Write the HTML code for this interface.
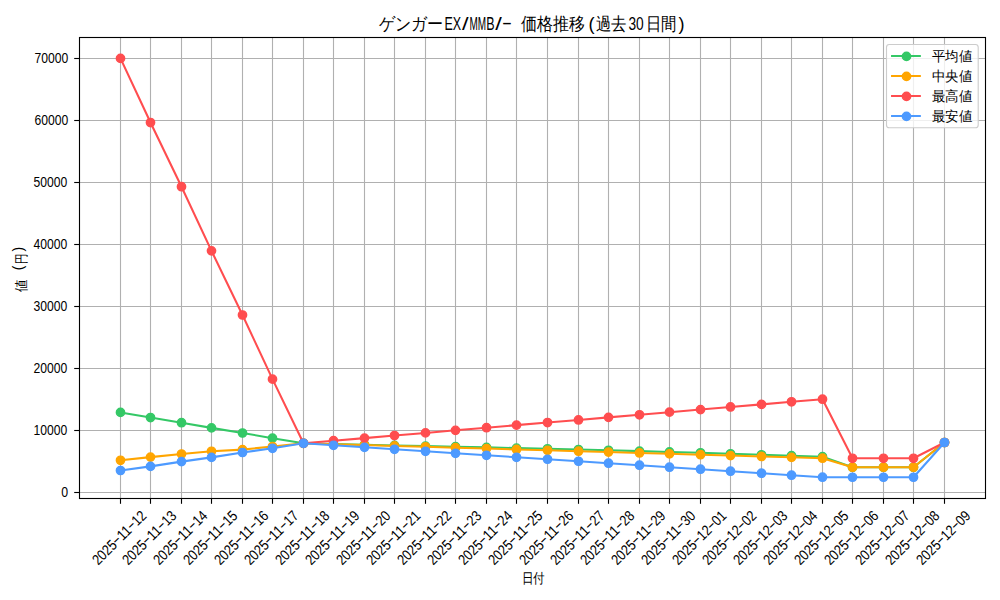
<!DOCTYPE html>
<html lang="ja"><head><meta charset="utf-8"><title>ゲンガーEX/MMB/- 価格推移</title>
<style>html,body{margin:0;padding:0;background:#fff;}body{width:1000px;height:600px;overflow:hidden;font-family:"Liberation Sans",sans-serif;}svg{display:block;}</style>
</head><body>
<svg width="1000" height="600" viewBox="0 0 1000 600">
<rect width="1000" height="600" fill="#fff"/>
<g stroke="#b0b0b0" stroke-width="1.11"><line x1="120.5" y1="37.5" x2="120.5" y2="498.5"/><line x1="150.5" y1="37.5" x2="150.5" y2="498.5"/><line x1="181.5" y1="37.5" x2="181.5" y2="498.5"/><line x1="211.5" y1="37.5" x2="211.5" y2="498.5"/><line x1="242.5" y1="37.5" x2="242.5" y2="498.5"/><line x1="272.5" y1="37.5" x2="272.5" y2="498.5"/><line x1="303.5" y1="37.5" x2="303.5" y2="498.5"/><line x1="333.5" y1="37.5" x2="333.5" y2="498.5"/><line x1="364.5" y1="37.5" x2="364.5" y2="498.5"/><line x1="394.5" y1="37.5" x2="394.5" y2="498.5"/><line x1="425.5" y1="37.5" x2="425.5" y2="498.5"/><line x1="455.5" y1="37.5" x2="455.5" y2="498.5"/><line x1="486.5" y1="37.5" x2="486.5" y2="498.5"/><line x1="516.5" y1="37.5" x2="516.5" y2="498.5"/><line x1="547.5" y1="37.5" x2="547.5" y2="498.5"/><line x1="578.5" y1="37.5" x2="578.5" y2="498.5"/><line x1="608.5" y1="37.5" x2="608.5" y2="498.5"/><line x1="639.5" y1="37.5" x2="639.5" y2="498.5"/><line x1="669.5" y1="37.5" x2="669.5" y2="498.5"/><line x1="700.5" y1="37.5" x2="700.5" y2="498.5"/><line x1="730.5" y1="37.5" x2="730.5" y2="498.5"/><line x1="761.5" y1="37.5" x2="761.5" y2="498.5"/><line x1="791.5" y1="37.5" x2="791.5" y2="498.5"/><line x1="822.5" y1="37.5" x2="822.5" y2="498.5"/><line x1="852.5" y1="37.5" x2="852.5" y2="498.5"/><line x1="883.5" y1="37.5" x2="883.5" y2="498.5"/><line x1="913.5" y1="37.5" x2="913.5" y2="498.5"/><line x1="944.5" y1="37.5" x2="944.5" y2="498.5"/><line x1="79.5" y1="492.5" x2="985.5" y2="492.5"/><line x1="79.5" y1="430.5" x2="985.5" y2="430.5"/><line x1="79.5" y1="368.5" x2="985.5" y2="368.5"/><line x1="79.5" y1="306.5" x2="985.5" y2="306.5"/><line x1="79.5" y1="244.5" x2="985.5" y2="244.5"/><line x1="79.5" y1="182.5" x2="985.5" y2="182.5"/><line x1="79.5" y1="120.5" x2="985.5" y2="120.5"/><line x1="79.5" y1="58.5" x2="985.5" y2="58.5"/></g>
<polyline points="120.50,412.40 150.50,417.55 181.50,422.70 211.50,427.85 242.50,433.00 272.50,438.15 303.50,443.30 333.50,444.01 364.50,444.72 394.50,445.43 425.50,446.07 455.50,446.72 486.50,447.36 516.50,448.09 547.50,448.81 578.50,449.54 608.50,450.26 639.50,451.11 669.50,451.95 700.50,452.79 730.50,453.77 761.50,454.75 791.50,455.72 822.50,456.70 852.50,467.25 883.50,467.25 913.50,467.25 944.50,442.50" fill="none" stroke="#34c866" stroke-width="2.08" stroke-linejoin="round" stroke-linecap="butt"/>
<circle cx="120.50" cy="412.40" r="4.17" fill="#34c866" stroke="#34c866" stroke-width="1.39"/><circle cx="150.50" cy="417.55" r="4.17" fill="#34c866" stroke="#34c866" stroke-width="1.39"/><circle cx="181.50" cy="422.70" r="4.17" fill="#34c866" stroke="#34c866" stroke-width="1.39"/><circle cx="211.50" cy="427.85" r="4.17" fill="#34c866" stroke="#34c866" stroke-width="1.39"/><circle cx="242.50" cy="433.00" r="4.17" fill="#34c866" stroke="#34c866" stroke-width="1.39"/><circle cx="272.50" cy="438.15" r="4.17" fill="#34c866" stroke="#34c866" stroke-width="1.39"/><circle cx="303.50" cy="443.30" r="4.17" fill="#34c866" stroke="#34c866" stroke-width="1.39"/><circle cx="333.50" cy="444.01" r="4.17" fill="#34c866" stroke="#34c866" stroke-width="1.39"/><circle cx="364.50" cy="444.72" r="4.17" fill="#34c866" stroke="#34c866" stroke-width="1.39"/><circle cx="394.50" cy="445.43" r="4.17" fill="#34c866" stroke="#34c866" stroke-width="1.39"/><circle cx="425.50" cy="446.07" r="4.17" fill="#34c866" stroke="#34c866" stroke-width="1.39"/><circle cx="455.50" cy="446.72" r="4.17" fill="#34c866" stroke="#34c866" stroke-width="1.39"/><circle cx="486.50" cy="447.36" r="4.17" fill="#34c866" stroke="#34c866" stroke-width="1.39"/><circle cx="516.50" cy="448.09" r="4.17" fill="#34c866" stroke="#34c866" stroke-width="1.39"/><circle cx="547.50" cy="448.81" r="4.17" fill="#34c866" stroke="#34c866" stroke-width="1.39"/><circle cx="578.50" cy="449.54" r="4.17" fill="#34c866" stroke="#34c866" stroke-width="1.39"/><circle cx="608.50" cy="450.26" r="4.17" fill="#34c866" stroke="#34c866" stroke-width="1.39"/><circle cx="639.50" cy="451.11" r="4.17" fill="#34c866" stroke="#34c866" stroke-width="1.39"/><circle cx="669.50" cy="451.95" r="4.17" fill="#34c866" stroke="#34c866" stroke-width="1.39"/><circle cx="700.50" cy="452.79" r="4.17" fill="#34c866" stroke="#34c866" stroke-width="1.39"/><circle cx="730.50" cy="453.77" r="4.17" fill="#34c866" stroke="#34c866" stroke-width="1.39"/><circle cx="761.50" cy="454.75" r="4.17" fill="#34c866" stroke="#34c866" stroke-width="1.39"/><circle cx="791.50" cy="455.72" r="4.17" fill="#34c866" stroke="#34c866" stroke-width="1.39"/><circle cx="822.50" cy="456.70" r="4.17" fill="#34c866" stroke="#34c866" stroke-width="1.39"/><circle cx="852.50" cy="467.25" r="4.17" fill="#34c866" stroke="#34c866" stroke-width="1.39"/><circle cx="883.50" cy="467.25" r="4.17" fill="#34c866" stroke="#34c866" stroke-width="1.39"/><circle cx="913.50" cy="467.25" r="4.17" fill="#34c866" stroke="#34c866" stroke-width="1.39"/><circle cx="944.50" cy="442.50" r="4.17" fill="#34c866" stroke="#34c866" stroke-width="1.39"/>

<polyline points="120.50,460.30 150.50,457.10 181.50,454.00 211.50,451.30 242.50,449.60 272.50,446.50 303.50,443.30 333.50,444.18 364.50,445.05 394.50,445.93 425.50,446.81 455.50,447.68 486.50,448.56 516.50,449.44 547.50,450.31 578.50,451.19 608.50,452.06 639.50,452.94 669.50,453.82 700.50,454.69 730.50,455.57 761.50,456.45 791.50,457.32 822.50,458.20 852.50,467.25 883.50,467.25 913.50,467.25 944.50,442.50" fill="none" stroke="#ffa500" stroke-width="2.08" stroke-linejoin="round" stroke-linecap="butt"/>
<circle cx="120.50" cy="460.30" r="4.17" fill="#ffa500" stroke="#ffa500" stroke-width="1.39"/><circle cx="150.50" cy="457.10" r="4.17" fill="#ffa500" stroke="#ffa500" stroke-width="1.39"/><circle cx="181.50" cy="454.00" r="4.17" fill="#ffa500" stroke="#ffa500" stroke-width="1.39"/><circle cx="211.50" cy="451.30" r="4.17" fill="#ffa500" stroke="#ffa500" stroke-width="1.39"/><circle cx="242.50" cy="449.60" r="4.17" fill="#ffa500" stroke="#ffa500" stroke-width="1.39"/><circle cx="272.50" cy="446.50" r="4.17" fill="#ffa500" stroke="#ffa500" stroke-width="1.39"/><circle cx="303.50" cy="443.30" r="4.17" fill="#ffa500" stroke="#ffa500" stroke-width="1.39"/><circle cx="333.50" cy="444.18" r="4.17" fill="#ffa500" stroke="#ffa500" stroke-width="1.39"/><circle cx="364.50" cy="445.05" r="4.17" fill="#ffa500" stroke="#ffa500" stroke-width="1.39"/><circle cx="394.50" cy="445.93" r="4.17" fill="#ffa500" stroke="#ffa500" stroke-width="1.39"/><circle cx="425.50" cy="446.81" r="4.17" fill="#ffa500" stroke="#ffa500" stroke-width="1.39"/><circle cx="455.50" cy="447.68" r="4.17" fill="#ffa500" stroke="#ffa500" stroke-width="1.39"/><circle cx="486.50" cy="448.56" r="4.17" fill="#ffa500" stroke="#ffa500" stroke-width="1.39"/><circle cx="516.50" cy="449.44" r="4.17" fill="#ffa500" stroke="#ffa500" stroke-width="1.39"/><circle cx="547.50" cy="450.31" r="4.17" fill="#ffa500" stroke="#ffa500" stroke-width="1.39"/><circle cx="578.50" cy="451.19" r="4.17" fill="#ffa500" stroke="#ffa500" stroke-width="1.39"/><circle cx="608.50" cy="452.06" r="4.17" fill="#ffa500" stroke="#ffa500" stroke-width="1.39"/><circle cx="639.50" cy="452.94" r="4.17" fill="#ffa500" stroke="#ffa500" stroke-width="1.39"/><circle cx="669.50" cy="453.82" r="4.17" fill="#ffa500" stroke="#ffa500" stroke-width="1.39"/><circle cx="700.50" cy="454.69" r="4.17" fill="#ffa500" stroke="#ffa500" stroke-width="1.39"/><circle cx="730.50" cy="455.57" r="4.17" fill="#ffa500" stroke="#ffa500" stroke-width="1.39"/><circle cx="761.50" cy="456.45" r="4.17" fill="#ffa500" stroke="#ffa500" stroke-width="1.39"/><circle cx="791.50" cy="457.32" r="4.17" fill="#ffa500" stroke="#ffa500" stroke-width="1.39"/><circle cx="822.50" cy="458.20" r="4.17" fill="#ffa500" stroke="#ffa500" stroke-width="1.39"/><circle cx="852.50" cy="467.25" r="4.17" fill="#ffa500" stroke="#ffa500" stroke-width="1.39"/><circle cx="883.50" cy="467.25" r="4.17" fill="#ffa500" stroke="#ffa500" stroke-width="1.39"/><circle cx="913.50" cy="467.25" r="4.17" fill="#ffa500" stroke="#ffa500" stroke-width="1.39"/><circle cx="944.50" cy="442.50" r="4.17" fill="#ffa500" stroke="#ffa500" stroke-width="1.39"/>

<polyline points="120.50,58.40 150.50,122.55 181.50,186.70 211.50,250.85 242.50,315.00 272.50,379.15 303.50,443.30 333.50,440.71 364.50,438.11 394.50,435.52 425.50,432.92 455.50,430.33 486.50,427.74 516.50,425.14 547.50,422.55 578.50,419.95 608.50,417.36 639.50,414.76 669.50,412.17 700.50,409.58 730.50,406.98 761.50,404.39 791.50,401.79 822.50,399.20 852.50,458.30 883.50,458.30 913.50,458.30 944.50,442.50" fill="none" stroke="#ff4d4f" stroke-width="2.08" stroke-linejoin="round" stroke-linecap="butt"/>
<circle cx="120.50" cy="58.40" r="4.17" fill="#ff4d4f" stroke="#ff4d4f" stroke-width="1.39"/><circle cx="150.50" cy="122.55" r="4.17" fill="#ff4d4f" stroke="#ff4d4f" stroke-width="1.39"/><circle cx="181.50" cy="186.70" r="4.17" fill="#ff4d4f" stroke="#ff4d4f" stroke-width="1.39"/><circle cx="211.50" cy="250.85" r="4.17" fill="#ff4d4f" stroke="#ff4d4f" stroke-width="1.39"/><circle cx="242.50" cy="315.00" r="4.17" fill="#ff4d4f" stroke="#ff4d4f" stroke-width="1.39"/><circle cx="272.50" cy="379.15" r="4.17" fill="#ff4d4f" stroke="#ff4d4f" stroke-width="1.39"/><circle cx="303.50" cy="443.30" r="4.17" fill="#ff4d4f" stroke="#ff4d4f" stroke-width="1.39"/><circle cx="333.50" cy="440.71" r="4.17" fill="#ff4d4f" stroke="#ff4d4f" stroke-width="1.39"/><circle cx="364.50" cy="438.11" r="4.17" fill="#ff4d4f" stroke="#ff4d4f" stroke-width="1.39"/><circle cx="394.50" cy="435.52" r="4.17" fill="#ff4d4f" stroke="#ff4d4f" stroke-width="1.39"/><circle cx="425.50" cy="432.92" r="4.17" fill="#ff4d4f" stroke="#ff4d4f" stroke-width="1.39"/><circle cx="455.50" cy="430.33" r="4.17" fill="#ff4d4f" stroke="#ff4d4f" stroke-width="1.39"/><circle cx="486.50" cy="427.74" r="4.17" fill="#ff4d4f" stroke="#ff4d4f" stroke-width="1.39"/><circle cx="516.50" cy="425.14" r="4.17" fill="#ff4d4f" stroke="#ff4d4f" stroke-width="1.39"/><circle cx="547.50" cy="422.55" r="4.17" fill="#ff4d4f" stroke="#ff4d4f" stroke-width="1.39"/><circle cx="578.50" cy="419.95" r="4.17" fill="#ff4d4f" stroke="#ff4d4f" stroke-width="1.39"/><circle cx="608.50" cy="417.36" r="4.17" fill="#ff4d4f" stroke="#ff4d4f" stroke-width="1.39"/><circle cx="639.50" cy="414.76" r="4.17" fill="#ff4d4f" stroke="#ff4d4f" stroke-width="1.39"/><circle cx="669.50" cy="412.17" r="4.17" fill="#ff4d4f" stroke="#ff4d4f" stroke-width="1.39"/><circle cx="700.50" cy="409.58" r="4.17" fill="#ff4d4f" stroke="#ff4d4f" stroke-width="1.39"/><circle cx="730.50" cy="406.98" r="4.17" fill="#ff4d4f" stroke="#ff4d4f" stroke-width="1.39"/><circle cx="761.50" cy="404.39" r="4.17" fill="#ff4d4f" stroke="#ff4d4f" stroke-width="1.39"/><circle cx="791.50" cy="401.79" r="4.17" fill="#ff4d4f" stroke="#ff4d4f" stroke-width="1.39"/><circle cx="822.50" cy="399.20" r="4.17" fill="#ff4d4f" stroke="#ff4d4f" stroke-width="1.39"/><circle cx="852.50" cy="458.30" r="4.17" fill="#ff4d4f" stroke="#ff4d4f" stroke-width="1.39"/><circle cx="883.50" cy="458.30" r="4.17" fill="#ff4d4f" stroke="#ff4d4f" stroke-width="1.39"/><circle cx="913.50" cy="458.30" r="4.17" fill="#ff4d4f" stroke="#ff4d4f" stroke-width="1.39"/><circle cx="944.50" cy="442.50" r="4.17" fill="#ff4d4f" stroke="#ff4d4f" stroke-width="1.39"/>

<polyline points="120.50,470.50 150.50,466.40 181.50,461.60 211.50,457.40 242.50,452.50 272.50,448.30 303.50,443.30 333.50,445.29 364.50,447.29 394.50,449.28 425.50,451.28 455.50,453.27 486.50,455.26 516.50,457.26 547.50,459.25 578.50,461.25 608.50,463.24 639.50,465.24 669.50,467.23 700.50,469.22 730.50,471.22 761.50,473.21 791.50,475.21 822.50,477.20 852.50,477.25 883.50,477.25 913.50,477.25 944.50,442.50" fill="none" stroke="#4d9aff" stroke-width="2.08" stroke-linejoin="round" stroke-linecap="butt"/>
<circle cx="120.50" cy="470.50" r="4.17" fill="#4d9aff" stroke="#4d9aff" stroke-width="1.39"/><circle cx="150.50" cy="466.40" r="4.17" fill="#4d9aff" stroke="#4d9aff" stroke-width="1.39"/><circle cx="181.50" cy="461.60" r="4.17" fill="#4d9aff" stroke="#4d9aff" stroke-width="1.39"/><circle cx="211.50" cy="457.40" r="4.17" fill="#4d9aff" stroke="#4d9aff" stroke-width="1.39"/><circle cx="242.50" cy="452.50" r="4.17" fill="#4d9aff" stroke="#4d9aff" stroke-width="1.39"/><circle cx="272.50" cy="448.30" r="4.17" fill="#4d9aff" stroke="#4d9aff" stroke-width="1.39"/><circle cx="303.50" cy="443.30" r="4.17" fill="#4d9aff" stroke="#4d9aff" stroke-width="1.39"/><circle cx="333.50" cy="445.29" r="4.17" fill="#4d9aff" stroke="#4d9aff" stroke-width="1.39"/><circle cx="364.50" cy="447.29" r="4.17" fill="#4d9aff" stroke="#4d9aff" stroke-width="1.39"/><circle cx="394.50" cy="449.28" r="4.17" fill="#4d9aff" stroke="#4d9aff" stroke-width="1.39"/><circle cx="425.50" cy="451.28" r="4.17" fill="#4d9aff" stroke="#4d9aff" stroke-width="1.39"/><circle cx="455.50" cy="453.27" r="4.17" fill="#4d9aff" stroke="#4d9aff" stroke-width="1.39"/><circle cx="486.50" cy="455.26" r="4.17" fill="#4d9aff" stroke="#4d9aff" stroke-width="1.39"/><circle cx="516.50" cy="457.26" r="4.17" fill="#4d9aff" stroke="#4d9aff" stroke-width="1.39"/><circle cx="547.50" cy="459.25" r="4.17" fill="#4d9aff" stroke="#4d9aff" stroke-width="1.39"/><circle cx="578.50" cy="461.25" r="4.17" fill="#4d9aff" stroke="#4d9aff" stroke-width="1.39"/><circle cx="608.50" cy="463.24" r="4.17" fill="#4d9aff" stroke="#4d9aff" stroke-width="1.39"/><circle cx="639.50" cy="465.24" r="4.17" fill="#4d9aff" stroke="#4d9aff" stroke-width="1.39"/><circle cx="669.50" cy="467.23" r="4.17" fill="#4d9aff" stroke="#4d9aff" stroke-width="1.39"/><circle cx="700.50" cy="469.22" r="4.17" fill="#4d9aff" stroke="#4d9aff" stroke-width="1.39"/><circle cx="730.50" cy="471.22" r="4.17" fill="#4d9aff" stroke="#4d9aff" stroke-width="1.39"/><circle cx="761.50" cy="473.21" r="4.17" fill="#4d9aff" stroke="#4d9aff" stroke-width="1.39"/><circle cx="791.50" cy="475.21" r="4.17" fill="#4d9aff" stroke="#4d9aff" stroke-width="1.39"/><circle cx="822.50" cy="477.20" r="4.17" fill="#4d9aff" stroke="#4d9aff" stroke-width="1.39"/><circle cx="852.50" cy="477.25" r="4.17" fill="#4d9aff" stroke="#4d9aff" stroke-width="1.39"/><circle cx="883.50" cy="477.25" r="4.17" fill="#4d9aff" stroke="#4d9aff" stroke-width="1.39"/><circle cx="913.50" cy="477.25" r="4.17" fill="#4d9aff" stroke="#4d9aff" stroke-width="1.39"/><circle cx="944.50" cy="442.50" r="4.17" fill="#4d9aff" stroke="#4d9aff" stroke-width="1.39"/>

<g stroke="#000" stroke-width="1.11" stroke-linecap="butt"><rect x="79.5" y="37.5" width="906.0" height="461.0" fill="none"/><line x1="120.5" y1="498.5" x2="120.5" y2="503.8"/><line x1="150.5" y1="498.5" x2="150.5" y2="503.8"/><line x1="181.5" y1="498.5" x2="181.5" y2="503.8"/><line x1="211.5" y1="498.5" x2="211.5" y2="503.8"/><line x1="242.5" y1="498.5" x2="242.5" y2="503.8"/><line x1="272.5" y1="498.5" x2="272.5" y2="503.8"/><line x1="303.5" y1="498.5" x2="303.5" y2="503.8"/><line x1="333.5" y1="498.5" x2="333.5" y2="503.8"/><line x1="364.5" y1="498.5" x2="364.5" y2="503.8"/><line x1="394.5" y1="498.5" x2="394.5" y2="503.8"/><line x1="425.5" y1="498.5" x2="425.5" y2="503.8"/><line x1="455.5" y1="498.5" x2="455.5" y2="503.8"/><line x1="486.5" y1="498.5" x2="486.5" y2="503.8"/><line x1="516.5" y1="498.5" x2="516.5" y2="503.8"/><line x1="547.5" y1="498.5" x2="547.5" y2="503.8"/><line x1="578.5" y1="498.5" x2="578.5" y2="503.8"/><line x1="608.5" y1="498.5" x2="608.5" y2="503.8"/><line x1="639.5" y1="498.5" x2="639.5" y2="503.8"/><line x1="669.5" y1="498.5" x2="669.5" y2="503.8"/><line x1="700.5" y1="498.5" x2="700.5" y2="503.8"/><line x1="730.5" y1="498.5" x2="730.5" y2="503.8"/><line x1="761.5" y1="498.5" x2="761.5" y2="503.8"/><line x1="791.5" y1="498.5" x2="791.5" y2="503.8"/><line x1="822.5" y1="498.5" x2="822.5" y2="503.8"/><line x1="852.5" y1="498.5" x2="852.5" y2="503.8"/><line x1="883.5" y1="498.5" x2="883.5" y2="503.8"/><line x1="913.5" y1="498.5" x2="913.5" y2="503.8"/><line x1="944.5" y1="498.5" x2="944.5" y2="503.8"/><line x1="74.2" y1="492.5" x2="79.5" y2="492.5"/><line x1="74.2" y1="430.5" x2="79.5" y2="430.5"/><line x1="74.2" y1="368.5" x2="79.5" y2="368.5"/><line x1="74.2" y1="306.5" x2="79.5" y2="306.5"/><line x1="74.2" y1="244.5" x2="79.5" y2="244.5"/><line x1="74.2" y1="182.5" x2="79.5" y2="182.5"/><line x1="74.2" y1="120.5" x2="79.5" y2="120.5"/><line x1="74.2" y1="58.5" x2="79.5" y2="58.5"/></g>
<g font-family="'Liberation Sans', sans-serif" font-size="14.8" fill="#000"><text x="68.2" y="497.00" text-anchor="end" textLength="6.85" lengthAdjust="spacingAndGlyphs">0</text><text x="67.3" y="435.00" text-anchor="end" textLength="33.80" lengthAdjust="spacingAndGlyphs">10000</text><text x="67.3" y="373.00" text-anchor="end" textLength="33.80" lengthAdjust="spacingAndGlyphs">20000</text><text x="67.3" y="311.00" text-anchor="end" textLength="33.80" lengthAdjust="spacingAndGlyphs">30000</text><text x="67.3" y="249.00" text-anchor="end" textLength="33.80" lengthAdjust="spacingAndGlyphs">40000</text><text x="67.3" y="187.00" text-anchor="end" textLength="33.80" lengthAdjust="spacingAndGlyphs">50000</text><text x="68.2" y="125.00" text-anchor="end" textLength="33.80" lengthAdjust="spacingAndGlyphs">60000</text><text x="68.2" y="63.00" text-anchor="end" textLength="33.80" lengthAdjust="spacingAndGlyphs">70000</text></g>
<g font-family="'Liberation Sans', sans-serif" font-size="14.8" fill="#000"><g transform="translate(119.10,537.60) rotate(-45)"><text x="-34.75" y="5.2" textLength="27.80" lengthAdjust="spacingAndGlyphs">2025</text><text x="-7.47" y="3.9" textLength="8.0" lengthAdjust="spacingAndGlyphs">-</text><text x="0.00" y="5.2" textLength="13.90" lengthAdjust="spacingAndGlyphs">11</text><text x="13.38" y="3.9" textLength="8.0" lengthAdjust="spacingAndGlyphs">-</text><text x="20.85" y="5.2" textLength="13.90" lengthAdjust="spacingAndGlyphs">12</text></g><g transform="translate(149.10,537.60) rotate(-45)"><text x="-34.75" y="5.2" textLength="27.80" lengthAdjust="spacingAndGlyphs">2025</text><text x="-7.47" y="3.9" textLength="8.0" lengthAdjust="spacingAndGlyphs">-</text><text x="0.00" y="5.2" textLength="13.90" lengthAdjust="spacingAndGlyphs">11</text><text x="13.38" y="3.9" textLength="8.0" lengthAdjust="spacingAndGlyphs">-</text><text x="20.85" y="5.2" textLength="13.90" lengthAdjust="spacingAndGlyphs">13</text></g><g transform="translate(180.10,537.60) rotate(-45)"><text x="-34.75" y="5.2" textLength="27.80" lengthAdjust="spacingAndGlyphs">2025</text><text x="-7.47" y="3.9" textLength="8.0" lengthAdjust="spacingAndGlyphs">-</text><text x="0.00" y="5.2" textLength="13.90" lengthAdjust="spacingAndGlyphs">11</text><text x="13.38" y="3.9" textLength="8.0" lengthAdjust="spacingAndGlyphs">-</text><text x="20.85" y="5.2" textLength="13.90" lengthAdjust="spacingAndGlyphs">14</text></g><g transform="translate(210.10,537.60) rotate(-45)"><text x="-34.75" y="5.2" textLength="27.80" lengthAdjust="spacingAndGlyphs">2025</text><text x="-7.47" y="3.9" textLength="8.0" lengthAdjust="spacingAndGlyphs">-</text><text x="0.00" y="5.2" textLength="13.90" lengthAdjust="spacingAndGlyphs">11</text><text x="13.38" y="3.9" textLength="8.0" lengthAdjust="spacingAndGlyphs">-</text><text x="20.85" y="5.2" textLength="13.90" lengthAdjust="spacingAndGlyphs">15</text></g><g transform="translate(241.10,537.60) rotate(-45)"><text x="-34.75" y="5.2" textLength="27.80" lengthAdjust="spacingAndGlyphs">2025</text><text x="-7.47" y="3.9" textLength="8.0" lengthAdjust="spacingAndGlyphs">-</text><text x="0.00" y="5.2" textLength="13.90" lengthAdjust="spacingAndGlyphs">11</text><text x="13.38" y="3.9" textLength="8.0" lengthAdjust="spacingAndGlyphs">-</text><text x="20.85" y="5.2" textLength="13.90" lengthAdjust="spacingAndGlyphs">16</text></g><g transform="translate(271.10,537.60) rotate(-45)"><text x="-34.75" y="5.2" textLength="27.80" lengthAdjust="spacingAndGlyphs">2025</text><text x="-7.47" y="3.9" textLength="8.0" lengthAdjust="spacingAndGlyphs">-</text><text x="0.00" y="5.2" textLength="13.90" lengthAdjust="spacingAndGlyphs">11</text><text x="13.38" y="3.9" textLength="8.0" lengthAdjust="spacingAndGlyphs">-</text><text x="20.85" y="5.2" textLength="13.90" lengthAdjust="spacingAndGlyphs">17</text></g><g transform="translate(302.10,537.60) rotate(-45)"><text x="-34.75" y="5.2" textLength="27.80" lengthAdjust="spacingAndGlyphs">2025</text><text x="-7.47" y="3.9" textLength="8.0" lengthAdjust="spacingAndGlyphs">-</text><text x="0.00" y="5.2" textLength="13.90" lengthAdjust="spacingAndGlyphs">11</text><text x="13.38" y="3.9" textLength="8.0" lengthAdjust="spacingAndGlyphs">-</text><text x="20.85" y="5.2" textLength="13.90" lengthAdjust="spacingAndGlyphs">18</text></g><g transform="translate(332.10,537.60) rotate(-45)"><text x="-34.75" y="5.2" textLength="27.80" lengthAdjust="spacingAndGlyphs">2025</text><text x="-7.47" y="3.9" textLength="8.0" lengthAdjust="spacingAndGlyphs">-</text><text x="0.00" y="5.2" textLength="13.90" lengthAdjust="spacingAndGlyphs">11</text><text x="13.38" y="3.9" textLength="8.0" lengthAdjust="spacingAndGlyphs">-</text><text x="20.85" y="5.2" textLength="13.90" lengthAdjust="spacingAndGlyphs">19</text></g><g transform="translate(363.10,537.60) rotate(-45)"><text x="-34.75" y="5.2" textLength="27.80" lengthAdjust="spacingAndGlyphs">2025</text><text x="-7.47" y="3.9" textLength="8.0" lengthAdjust="spacingAndGlyphs">-</text><text x="0.00" y="5.2" textLength="13.90" lengthAdjust="spacingAndGlyphs">11</text><text x="13.38" y="3.9" textLength="8.0" lengthAdjust="spacingAndGlyphs">-</text><text x="20.85" y="5.2" textLength="13.90" lengthAdjust="spacingAndGlyphs">20</text></g><g transform="translate(393.10,537.60) rotate(-45)"><text x="-34.75" y="5.2" textLength="27.80" lengthAdjust="spacingAndGlyphs">2025</text><text x="-7.47" y="3.9" textLength="8.0" lengthAdjust="spacingAndGlyphs">-</text><text x="0.00" y="5.2" textLength="13.90" lengthAdjust="spacingAndGlyphs">11</text><text x="13.38" y="3.9" textLength="8.0" lengthAdjust="spacingAndGlyphs">-</text><text x="20.85" y="5.2" textLength="13.90" lengthAdjust="spacingAndGlyphs">21</text></g><g transform="translate(424.10,537.60) rotate(-45)"><text x="-34.75" y="5.2" textLength="27.80" lengthAdjust="spacingAndGlyphs">2025</text><text x="-7.47" y="3.9" textLength="8.0" lengthAdjust="spacingAndGlyphs">-</text><text x="0.00" y="5.2" textLength="13.90" lengthAdjust="spacingAndGlyphs">11</text><text x="13.38" y="3.9" textLength="8.0" lengthAdjust="spacingAndGlyphs">-</text><text x="20.85" y="5.2" textLength="13.90" lengthAdjust="spacingAndGlyphs">22</text></g><g transform="translate(454.10,537.60) rotate(-45)"><text x="-34.75" y="5.2" textLength="27.80" lengthAdjust="spacingAndGlyphs">2025</text><text x="-7.47" y="3.9" textLength="8.0" lengthAdjust="spacingAndGlyphs">-</text><text x="0.00" y="5.2" textLength="13.90" lengthAdjust="spacingAndGlyphs">11</text><text x="13.38" y="3.9" textLength="8.0" lengthAdjust="spacingAndGlyphs">-</text><text x="20.85" y="5.2" textLength="13.90" lengthAdjust="spacingAndGlyphs">23</text></g><g transform="translate(485.10,537.60) rotate(-45)"><text x="-34.75" y="5.2" textLength="27.80" lengthAdjust="spacingAndGlyphs">2025</text><text x="-7.47" y="3.9" textLength="8.0" lengthAdjust="spacingAndGlyphs">-</text><text x="0.00" y="5.2" textLength="13.90" lengthAdjust="spacingAndGlyphs">11</text><text x="13.38" y="3.9" textLength="8.0" lengthAdjust="spacingAndGlyphs">-</text><text x="20.85" y="5.2" textLength="13.90" lengthAdjust="spacingAndGlyphs">24</text></g><g transform="translate(515.10,537.60) rotate(-45)"><text x="-34.75" y="5.2" textLength="27.80" lengthAdjust="spacingAndGlyphs">2025</text><text x="-7.47" y="3.9" textLength="8.0" lengthAdjust="spacingAndGlyphs">-</text><text x="0.00" y="5.2" textLength="13.90" lengthAdjust="spacingAndGlyphs">11</text><text x="13.38" y="3.9" textLength="8.0" lengthAdjust="spacingAndGlyphs">-</text><text x="20.85" y="5.2" textLength="13.90" lengthAdjust="spacingAndGlyphs">25</text></g><g transform="translate(546.10,537.60) rotate(-45)"><text x="-34.75" y="5.2" textLength="27.80" lengthAdjust="spacingAndGlyphs">2025</text><text x="-7.47" y="3.9" textLength="8.0" lengthAdjust="spacingAndGlyphs">-</text><text x="0.00" y="5.2" textLength="13.90" lengthAdjust="spacingAndGlyphs">11</text><text x="13.38" y="3.9" textLength="8.0" lengthAdjust="spacingAndGlyphs">-</text><text x="20.85" y="5.2" textLength="13.90" lengthAdjust="spacingAndGlyphs">26</text></g><g transform="translate(577.10,537.60) rotate(-45)"><text x="-34.75" y="5.2" textLength="27.80" lengthAdjust="spacingAndGlyphs">2025</text><text x="-7.47" y="3.9" textLength="8.0" lengthAdjust="spacingAndGlyphs">-</text><text x="0.00" y="5.2" textLength="13.90" lengthAdjust="spacingAndGlyphs">11</text><text x="13.38" y="3.9" textLength="8.0" lengthAdjust="spacingAndGlyphs">-</text><text x="20.85" y="5.2" textLength="13.90" lengthAdjust="spacingAndGlyphs">27</text></g><g transform="translate(607.10,537.60) rotate(-45)"><text x="-34.75" y="5.2" textLength="27.80" lengthAdjust="spacingAndGlyphs">2025</text><text x="-7.47" y="3.9" textLength="8.0" lengthAdjust="spacingAndGlyphs">-</text><text x="0.00" y="5.2" textLength="13.90" lengthAdjust="spacingAndGlyphs">11</text><text x="13.38" y="3.9" textLength="8.0" lengthAdjust="spacingAndGlyphs">-</text><text x="20.85" y="5.2" textLength="13.90" lengthAdjust="spacingAndGlyphs">28</text></g><g transform="translate(638.10,537.60) rotate(-45)"><text x="-34.75" y="5.2" textLength="27.80" lengthAdjust="spacingAndGlyphs">2025</text><text x="-7.47" y="3.9" textLength="8.0" lengthAdjust="spacingAndGlyphs">-</text><text x="0.00" y="5.2" textLength="13.90" lengthAdjust="spacingAndGlyphs">11</text><text x="13.38" y="3.9" textLength="8.0" lengthAdjust="spacingAndGlyphs">-</text><text x="20.85" y="5.2" textLength="13.90" lengthAdjust="spacingAndGlyphs">29</text></g><g transform="translate(668.10,537.60) rotate(-45)"><text x="-34.75" y="5.2" textLength="27.80" lengthAdjust="spacingAndGlyphs">2025</text><text x="-7.47" y="3.9" textLength="8.0" lengthAdjust="spacingAndGlyphs">-</text><text x="0.00" y="5.2" textLength="13.90" lengthAdjust="spacingAndGlyphs">11</text><text x="13.38" y="3.9" textLength="8.0" lengthAdjust="spacingAndGlyphs">-</text><text x="20.85" y="5.2" textLength="13.90" lengthAdjust="spacingAndGlyphs">30</text></g><g transform="translate(699.10,537.60) rotate(-45)"><text x="-34.75" y="5.2" textLength="27.80" lengthAdjust="spacingAndGlyphs">2025</text><text x="-7.47" y="3.9" textLength="8.0" lengthAdjust="spacingAndGlyphs">-</text><text x="0.00" y="5.2" textLength="13.90" lengthAdjust="spacingAndGlyphs">12</text><text x="13.38" y="3.9" textLength="8.0" lengthAdjust="spacingAndGlyphs">-</text><text x="20.85" y="5.2" textLength="13.90" lengthAdjust="spacingAndGlyphs">01</text></g><g transform="translate(729.10,537.60) rotate(-45)"><text x="-34.75" y="5.2" textLength="27.80" lengthAdjust="spacingAndGlyphs">2025</text><text x="-7.47" y="3.9" textLength="8.0" lengthAdjust="spacingAndGlyphs">-</text><text x="0.00" y="5.2" textLength="13.90" lengthAdjust="spacingAndGlyphs">12</text><text x="13.38" y="3.9" textLength="8.0" lengthAdjust="spacingAndGlyphs">-</text><text x="20.85" y="5.2" textLength="13.90" lengthAdjust="spacingAndGlyphs">02</text></g><g transform="translate(760.10,537.60) rotate(-45)"><text x="-34.75" y="5.2" textLength="27.80" lengthAdjust="spacingAndGlyphs">2025</text><text x="-7.47" y="3.9" textLength="8.0" lengthAdjust="spacingAndGlyphs">-</text><text x="0.00" y="5.2" textLength="13.90" lengthAdjust="spacingAndGlyphs">12</text><text x="13.38" y="3.9" textLength="8.0" lengthAdjust="spacingAndGlyphs">-</text><text x="20.85" y="5.2" textLength="13.90" lengthAdjust="spacingAndGlyphs">03</text></g><g transform="translate(790.10,537.60) rotate(-45)"><text x="-34.75" y="5.2" textLength="27.80" lengthAdjust="spacingAndGlyphs">2025</text><text x="-7.47" y="3.9" textLength="8.0" lengthAdjust="spacingAndGlyphs">-</text><text x="0.00" y="5.2" textLength="13.90" lengthAdjust="spacingAndGlyphs">12</text><text x="13.38" y="3.9" textLength="8.0" lengthAdjust="spacingAndGlyphs">-</text><text x="20.85" y="5.2" textLength="13.90" lengthAdjust="spacingAndGlyphs">04</text></g><g transform="translate(821.10,537.60) rotate(-45)"><text x="-34.75" y="5.2" textLength="27.80" lengthAdjust="spacingAndGlyphs">2025</text><text x="-7.47" y="3.9" textLength="8.0" lengthAdjust="spacingAndGlyphs">-</text><text x="0.00" y="5.2" textLength="13.90" lengthAdjust="spacingAndGlyphs">12</text><text x="13.38" y="3.9" textLength="8.0" lengthAdjust="spacingAndGlyphs">-</text><text x="20.85" y="5.2" textLength="13.90" lengthAdjust="spacingAndGlyphs">05</text></g><g transform="translate(851.10,537.60) rotate(-45)"><text x="-34.75" y="5.2" textLength="27.80" lengthAdjust="spacingAndGlyphs">2025</text><text x="-7.47" y="3.9" textLength="8.0" lengthAdjust="spacingAndGlyphs">-</text><text x="0.00" y="5.2" textLength="13.90" lengthAdjust="spacingAndGlyphs">12</text><text x="13.38" y="3.9" textLength="8.0" lengthAdjust="spacingAndGlyphs">-</text><text x="20.85" y="5.2" textLength="13.90" lengthAdjust="spacingAndGlyphs">06</text></g><g transform="translate(882.10,537.60) rotate(-45)"><text x="-34.75" y="5.2" textLength="27.80" lengthAdjust="spacingAndGlyphs">2025</text><text x="-7.47" y="3.9" textLength="8.0" lengthAdjust="spacingAndGlyphs">-</text><text x="0.00" y="5.2" textLength="13.90" lengthAdjust="spacingAndGlyphs">12</text><text x="13.38" y="3.9" textLength="8.0" lengthAdjust="spacingAndGlyphs">-</text><text x="20.85" y="5.2" textLength="13.90" lengthAdjust="spacingAndGlyphs">07</text></g><g transform="translate(912.10,537.60) rotate(-45)"><text x="-34.75" y="5.2" textLength="27.80" lengthAdjust="spacingAndGlyphs">2025</text><text x="-7.47" y="3.9" textLength="8.0" lengthAdjust="spacingAndGlyphs">-</text><text x="0.00" y="5.2" textLength="13.90" lengthAdjust="spacingAndGlyphs">12</text><text x="13.38" y="3.9" textLength="8.0" lengthAdjust="spacingAndGlyphs">-</text><text x="20.85" y="5.2" textLength="13.90" lengthAdjust="spacingAndGlyphs">08</text></g><g transform="translate(943.10,537.60) rotate(-45)"><text x="-34.75" y="5.2" textLength="27.80" lengthAdjust="spacingAndGlyphs">2025</text><text x="-7.47" y="3.9" textLength="8.0" lengthAdjust="spacingAndGlyphs">-</text><text x="0.00" y="5.2" textLength="13.90" lengthAdjust="spacingAndGlyphs">12</text><text x="13.38" y="3.9" textLength="8.0" lengthAdjust="spacingAndGlyphs">-</text><text x="20.85" y="5.2" textLength="13.90" lengthAdjust="spacingAndGlyphs">09</text></g></g>
<g font-family="'Liberation Sans', sans-serif" font-size="18.2" fill="#000"><text x="379.10" y="29.6" textLength="64.07" lengthAdjust="spacingAndGlyphs">ゲンガー</text><text x="444.47" y="29.6" textLength="8.33" lengthAdjust="spacingAndGlyphs">E</text><text x="452.80" y="29.6" textLength="8.33" lengthAdjust="spacingAndGlyphs">X</text><text x="462.00" y="29.6" textLength="6.60" lengthAdjust="spacingAndGlyphs">/</text><text x="469.47" y="29.6" textLength="8.33" lengthAdjust="spacingAndGlyphs">M</text><text x="477.80" y="29.6" textLength="8.33" lengthAdjust="spacingAndGlyphs">M</text><text x="486.13" y="29.6" textLength="8.33" lengthAdjust="spacingAndGlyphs">B</text><text x="495.33" y="29.6" textLength="6.60" lengthAdjust="spacingAndGlyphs">/</text><text x="501.8" y="28.5" textLength="10.4" lengthAdjust="spacingAndGlyphs">-</text><text x="520.76" y="29.6" textLength="64.07" lengthAdjust="spacingAndGlyphs">価格推移</text><text x="588.53" y="29.6">(</text><text x="595.77" y="29.6" textLength="30.73" lengthAdjust="spacingAndGlyphs">過去</text><text x="628.40" y="29.6" textLength="15.27" lengthAdjust="spacingAndGlyphs">30</text><text x="645.77" y="29.6" textLength="30.73" lengthAdjust="spacingAndGlyphs">日間</text><text x="678.40" y="29.6">)</text></g>
<g font-family="'Liberation Sans', sans-serif" font-size="13.9" fill="#000"><text x="521.5" y="583.2" textLength="23.2" lengthAdjust="spacingAndGlyphs">日付</text><g transform="translate(25.6,0) rotate(-90)"><text x="-292.3" y="0" textLength="12.4" lengthAdjust="spacingAndGlyphs">値</text><text x="-270.2" y="-2.2">(</text><text x="-263.8" y="0" textLength="10.6" lengthAdjust="spacingAndGlyphs">円</text><text x="-251.4" y="-2.2">)</text></g></g>
<rect x="886.5" y="44.5" width="91.7" height="83.3" rx="2.8" ry="2.8" fill="#fff" fill-opacity="0.8" stroke="#cccccc" stroke-width="1.11"/><line x1="892.04" y1="56" x2="919.86" y2="56" stroke="#34c866" stroke-width="2" stroke-linecap="square"/><circle cx="906.5" cy="56.40" r="4.17" fill="#34c866" stroke="#34c866" stroke-width="1.39"/><text x="932" y="60.60" font-family="'Liberation Sans', sans-serif" font-size="13.9" textLength="40.3" lengthAdjust="spacingAndGlyphs">平均値</text><line x1="892.04" y1="76" x2="919.86" y2="76" stroke="#ffa500" stroke-width="2" stroke-linecap="square"/><circle cx="906.5" cy="76.40" r="4.17" fill="#ffa500" stroke="#ffa500" stroke-width="1.39"/><text x="932" y="80.60" font-family="'Liberation Sans', sans-serif" font-size="13.9" textLength="40.3" lengthAdjust="spacingAndGlyphs">中央値</text><line x1="892.04" y1="96" x2="919.86" y2="96" stroke="#ff4d4f" stroke-width="2" stroke-linecap="square"/><circle cx="906.5" cy="96.40" r="4.17" fill="#ff4d4f" stroke="#ff4d4f" stroke-width="1.39"/><text x="932" y="100.60" font-family="'Liberation Sans', sans-serif" font-size="13.9" textLength="40.3" lengthAdjust="spacingAndGlyphs">最高値</text><line x1="892.04" y1="116" x2="919.86" y2="116" stroke="#4d9aff" stroke-width="2" stroke-linecap="square"/><circle cx="906.5" cy="116.40" r="4.17" fill="#4d9aff" stroke="#4d9aff" stroke-width="1.39"/><text x="932" y="120.60" font-family="'Liberation Sans', sans-serif" font-size="13.9" textLength="40.3" lengthAdjust="spacingAndGlyphs">最安値</text>
</svg>
</body></html>
